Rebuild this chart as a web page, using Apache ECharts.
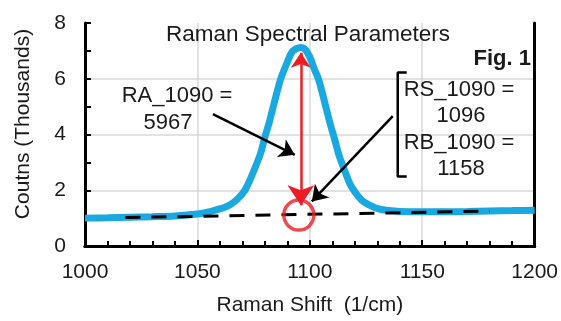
<!DOCTYPE html>
<html>
<head>
<meta charset="utf-8">
<script src="https://cdn.jsdelivr.net/npm/echarts@6/dist/echarts.min.js"></script>
<style>html,body{margin:0;padding:0;background:#fff}#c{width:561px;height:321px}</style>
</head>
<body>
<div id="c"></div>
<script>
// Spectrum (Raman shift in 1/cm, counts in thousands)
const shift = [1000,1010,1020,1030,1040,1050,1055,1058,1062,1065,1068,1071,1073,1075,1078,1080,1082,1084,1087,1090,1092,1094,1096,1098,1100,1102,1104,1107,1109,1111,1113,1116,1118,1120,1123,1127,1131,1135,1140,1150,1160,1170,1180,1190,1200];
const counts = [1.00,1.01,1.03,1.05,1.08,1.15,1.22,1.29,1.38,1.50,1.70,1.98,2.30,2.68,3.30,3.90,4.45,5.08,5.98,6.60,6.95,7.08,7.12,7.05,6.78,6.35,5.95,5.03,4.40,3.84,3.25,2.60,2.20,1.95,1.65,1.45,1.32,1.27,1.24,1.23,1.23,1.24,1.26,1.27,1.28];
// Linear baseline
const baseX = [1018, 1180];
const baseY = [1.02, 1.25];
// Peak amplitude arrow (x, from y, to y)
const ampX = 1096;
const ampY = [6.93, 1.46];
// Baseline marker
const markerPt = [1095.1, 1.11];
// Pointer arrows [[x1,y1],[x2,y2]]
const pointerA = [[1056.9, 4.73], [1093.3, 3.27]];
const pointerB = [[1136.9, 4.66], [1100.9, 1.60]];
// Bracket
const bracketX = [1143.1, 1139.1, 1139.1, 1143.1];
const bracketY = [6.22, 6.22, 2.49, 2.49];
// Axis ranges
const xRange = [1000, 1200, 50];
const yRange = [0, 8, 2];

const FONT = "'Liberation Sans', Arial, sans-serif";
const TXT = '#1a1a1a';

const chart = echarts.init(document.getElementById('c'), null, {renderer: 'canvas'});
const txt = (x, y, s, opts) => Object.assign({
  type: 'text', x: x, y: y, z: 100,
  style: Object.assign({text: s, fill: TXT, font: '22px ' + FONT, align: 'center', verticalAlign: 'middle'}, opts || {})
});
const frameAxis = {
  axisLine: {show: true, lineStyle: {color: '#000', width: 3}},
  axisTick: {show: false}, axisLabel: {show: false}, splitLine: {show: false}
};

chart.setOption({
  animation: false,
  grid: {left: 85, right: 26, top: 23, bottom: 73, show: false},
  xAxis: [{
    type: 'value', min: xRange[0], max: xRange[1], interval: xRange[2],
    name: 'Raman Shift  (1/cm)', nameLocation: 'middle', nameGap: 49,
    nameTextStyle: {fontFamily: FONT, fontSize: 21, color: TXT},
    axisLine: {show: true, lineStyle: {color: '#000', width: 3}},
    axisTick: {show: true, inside: true, length: 6, lineStyle: {color: '#000', width: 2}},
    minorTick: {show: true, splitNumber: 5, length: 5, lineStyle: {color: '#000', width: 2}},
    axisLabel: {fontFamily: FONT, fontSize: 21, color: TXT, margin: 16, formatter: v => String(v)},
    splitLine: {show: true, showMinLine: false, showMaxLine: false, lineStyle: {color: '#d9d9d9', width: 1.5}}
  }, Object.assign({type: 'value', position: 'top', min: xRange[0], max: xRange[1]}, frameAxis)],
  yAxis: [{
    type: 'value', min: yRange[0], max: yRange[1], interval: yRange[2],
    axisLine: {show: true, lineStyle: {color: '#000', width: 3}},
    axisTick: {show: true, inside: true, length: 6, lineStyle: {color: '#000', width: 2}},
    minorTick: {show: true, splitNumber: 2, length: 6, lineStyle: {color: '#000', width: 2}},
    axisLabel: {fontFamily: FONT, fontSize: 21, color: TXT, margin: 19},
    splitLine: {show: true, showMinLine: false, showMaxLine: false, lineStyle: {color: '#d9d9d9', width: 1.5}}
  }, Object.assign({type: 'value', position: 'right', min: yRange[0], max: yRange[1]}, frameAxis)],
  series: [
    {
      type: 'line', data: shift.map((x, i) => [x, counts[i]]), smooth: 0.3,
      showSymbol: false, symbol: 'none', z: 3,
      lineStyle: {color: '#1aa8e0', width: 7}
    },
    {
      type: 'line', data: baseX.map((x, i) => [x, baseY[i]]), showSymbol: false, symbol: 'none', z: 4,
      lineStyle: {color: '#000', width: 3, type: [15, 11]}
    },
    {
      type: 'line', data: bracketX.map((x, i) => [x, bracketY[i]]), showSymbol: false, symbol: 'none', z: 4,
      lineStyle: {color: '#000', width: 2.5}
    },
    {
      type: 'lines', coordinateSystem: 'cartesian2d', z: 6,
      symbol: ['arrow', 'arrow'], symbolSize: [15, 20],
      lineStyle: {color: '#ee1c24', width: 2.5, opacity: 1},
      data: [{coords: [[ampX, ampY[0]], [ampX, ampY[1]]]}]
    },
    {
      type: 'lines', coordinateSystem: 'cartesian2d', z: 6,
      symbol: ['none', 'arrow'], symbolSize: [15, 15],
      lineStyle: {color: '#000', width: 2.5, opacity: 1},
      data: [{coords: pointerA}, {coords: pointerB}]
    },
    {
      type: 'scatter', z: 7, symbol: 'circle', symbolSize: 30,
      itemStyle: {color: 'rgba(0,0,0,0)', borderColor: '#ee1c24', borderWidth: 3.5},
      data: [markerPt]
    }
  ],
  graphic: [
    txt(308, 35, 'Raman Spectral Parameters', {font: '22.5px ' + FONT}),
    txt(531, 59, 'Fig. 1', {align: 'right', font: 'bold 22px ' + FONT}),
    txt(177, 96, 'RA_1090 ='),
    txt(168, 123, '5967'),
    txt(459, 90, 'RS_1090 ='),
    txt(461, 116, '1096'),
    txt(459, 143, 'RB_1090 ='),
    txt(461, 169, '1158'),
    {type: 'text', x: 23, y: 124, rotation: Math.PI / 2, z: 100,
     style: {text: 'Coutns (Thousands)', fill: TXT, font: '21px ' + FONT, align: 'center', verticalAlign: 'middle'}}
  ]
});
</script>
</body>
</html>
